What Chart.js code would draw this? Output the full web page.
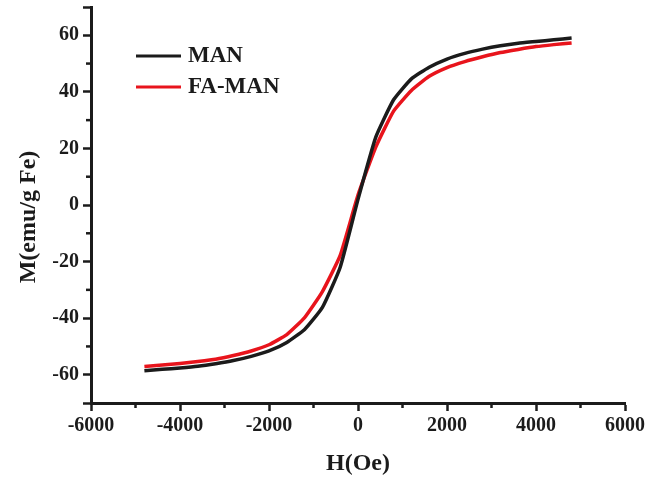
<!DOCTYPE html>
<html>
<head>
<meta charset="utf-8">
<script src="https://cdn.jsdelivr.net/npm/chart.js@4/dist/chart.umd.min.js"></script>
<style>
  html, body { margin: 0; padding: 0; background: #fff; }
  #wrap { width: 660px; height: 478px; }
</style>
</head>
<body>
<div id="wrap"><canvas id="mh"></canvas></div>
<script>
// campo aplicado (Oe)
const campo = [-4800, -4400, -4000, -3600, -3200, -2800, -2400, -2000, -1600, -1200, -800, -400, 0,
               400, 800, 1200, 1600, 2000, 2400, 2800, 3200, 3600, 4000, 4400, 4800];
// magnetizacion (emu/g Fe)
const man   = [-58.6, -58.1, -57.6, -57.0, -56.1, -55.0, -53.5, -51.6, -48.6, -44.0, -36.2, -22.0, 2.0,
               24.0, 37.2, 44.6, 48.7, 51.6, 53.6, 55.1, 56.3, 57.2, 57.8, 58.4, 59.0];
const faMan = [-57.1, -56.6, -56.0, -55.3, -54.5, -53.2, -51.6, -49.4, -45.8, -39.8, -30.6, -17.8, 3.5,
               20.5, 33.2, 40.5, 45.5, 48.6, 50.7, 52.4, 53.9, 55.0, 56.0, 56.7, 57.3];
const nombres = ["MAN", "FA-MAN"];
const colores = ["#1b1b1b", "#e8141c"];
// marcas del eje y (con etiqueta)
const marcasY = [-60, -40, -20, 0, 20, 40, 60];

const serif = "'Times New Roman', 'Liberation Serif', serif";

// ticks menores entre ticks mayores + leyenda dentro del grafico
const extras = {
    id: "extras",
    afterDraw(chart) {
        const ctx = chart.ctx;
        const x = chart.scales.x, y = chart.scales.y;
        ctx.save();
        ctx.strokeStyle = "#1b1b1b";
        ctx.lineWidth = 2.5;
        const xt = x.ticks.map(t => t.value);
        for (let i = 0; i < xt.length - 1; i++) {
            const px = x.getPixelForValue((xt[i] + xt[i + 1]) / 2);
            ctx.beginPath(); ctx.moveTo(px, x.top); ctx.lineTo(px, x.top + 5); ctx.stroke();
        }
        const yt = y.ticks.map(t => t.value);
        for (let i = 0; i < yt.length - 1; i++) {
            if (yt[i + 1] - yt[i] < 20) continue;
            const py = y.getPixelForValue((yt[i] + yt[i + 1]) / 2);
            ctx.beginPath(); ctx.moveTo(y.right, py); ctx.lineTo(y.right - 5, py); ctx.stroke();
        }
        // leyenda
        ctx.font = "bold 23px " + serif;
        ctx.textBaseline = "middle";
        chart.data.datasets.forEach((ds, i) => {
            const ly = 56 + i * 31;
            ctx.strokeStyle = ds.borderColor;
            ctx.lineWidth = 3;
            ctx.beginPath(); ctx.moveTo(136, ly); ctx.lineTo(181, ly); ctx.stroke();
            ctx.fillStyle = "#1b1b1b";
            ctx.fillText(ds.label, 188, ly);
        });
        ctx.restore();
    }
};

new Chart(document.getElementById("mh"), {
    type: "line",
    data: {
        datasets: [
            { label: nombres[0], data: campo.map((h, i) => ({ x: h, y: man[i] })), borderColor: colores[0], borderWidth: 3.5, pointRadius: 0, tension: 0.15 },
            { label: nombres[1], data: campo.map((h, i) => ({ x: h, y: faMan[i] })), borderColor: colores[1], borderWidth: 3.5, pointRadius: 0, tension: 0.15 },
        ],
    },
    options: {
        responsive: true,
        maintainAspectRatio: false,
        animation: false,
        layout: { padding: { top: 7, right: 35, left: 14, bottom: 0 } },
        plugins: { legend: { display: false }, tooltip: { enabled: false } },
        scales: {
            x: {
                type: "linear",
                min: -6000, max: 6000,
                afterFit: (s) => { s.height = 75; s.paddingLeft = 0; s.paddingRight = 0; },
                border: { color: "#1b1b1b", width: 3 },
                grid: { drawOnChartArea: false, tickLength: 8, tickWidth: 2.5, tickColor: "#1b1b1b" },
                ticks: { stepSize: 2000, padding: 3, color: "#1b1b1b", font: { family: serif, size: 20, weight: "bold" }, callback: (v) => String(v) },
                title: { display: true, text: "H(Oe)", color: "#1b1b1b", padding: 0, font: { family: serif, size: 24, weight: "bold" } },
            },
            y: {
                min: -70, max: 70,
                afterFit: (s) => { s.width = 77; s.paddingTop = 0; s.paddingBottom = 0; },
                afterBuildTicks: (s) => { s.ticks = [-70, ...marcasY, 70].map(v => ({ value: v })); },
                border: { color: "#1b1b1b", width: 3 },
                grid: { drawOnChartArea: false, tickLength: 8, tickWidth: 2.5, tickColor: "#1b1b1b" },
                ticks: {
                    padding: 4, color: "#1b1b1b",
                    font: { family: serif, size: 20, weight: "bold" },
                    callback: (v) => (Math.abs(v) === 70 ? "" : String(v)),
                },
                title: { display: true, text: "M(emu/g Fe)    ", color: "#1b1b1b", padding: 0, font: { family: serif, size: 24, weight: "bold" } },
            },
        },
    },
    plugins: [extras],
});
</script>
</body>
</html>
